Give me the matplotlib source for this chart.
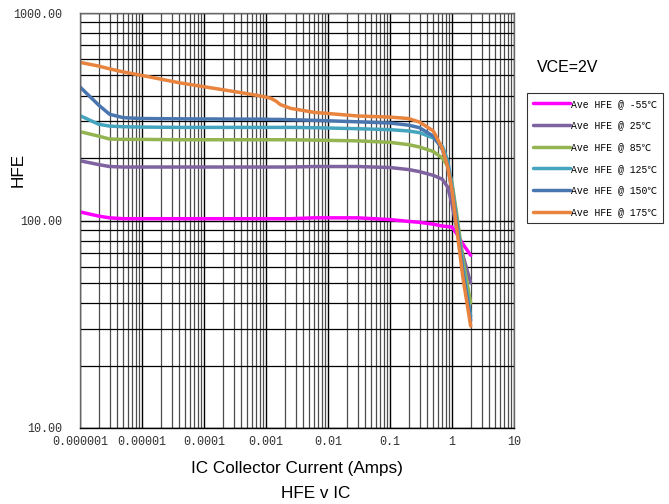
import matplotlib
matplotlib.use("Agg")
import matplotlib.pyplot as plt
from matplotlib.ticker import LogLocator, FixedLocator, NullFormatter

ic = [1e-6, 2e-6, 3e-6, 5e-6, 1e-5, 4e-5, 4e-4, 9e-4, 1.2e-3, 1.45e-3, 1.7e-3, 2.5e-3, 6e-3, 0.03,
      0.1, 0.2, 0.3, 0.5, 0.7, 0.85, 1.0, 1.2, 1.5, 2.0]

hfe_m55 = [110, 105, 103, 102, 102, 102, 102, 102, 102, 102, 102, 102, 103, 103, 101, 99, 98, 96, 94, 93.5, 93, 86, 77, 68]
hfe_25  = [194, 186, 182, 181, 181, 181, 181, 181, 181, 181, 181, 181, 182, 182, 180, 176, 172, 165, 158, 145, 120, 90, 68, 50]
hfe_85  = [268, 255, 247, 246, 246, 245, 245, 245, 245, 245, 245, 245, 244, 242, 238, 232, 226, 215, 200, 183, 152, 106, 65, 40]
hfe_125 = [320, 291, 285, 283, 282, 281, 281, 281, 281, 281, 281, 281, 280, 277, 274, 270, 265, 250, 228, 195, 148, 100, 60, 34.5]
hfe_150 = [440, 360, 325, 313, 310, 309, 308, 308, 307, 307, 307, 306, 304, 299, 295, 288, 280, 255, 220, 185, 140, 95, 56, 33]
hfe_175 = [578, 555, 538, 520, 500, 461, 413, 396, 388, 376, 362, 347, 332, 319, 315, 310, 298, 270, 222, 182, 140, 90, 53, 31]

labels = ["Ave HFE @ -55\u2103", "Ave HFE @ 25\u2103", "Ave HFE @ 85\u2103",
          "Ave HFE @ 125\u2103", "Ave HFE @ 150\u2103", "Ave HFE @ 175\u2103"]
colors = ["#FF00FF", "#7F62A0", "#93B450", "#45A5BF", "#4A76B0", "#E8843E"]
series = [hfe_m55, hfe_25, hfe_85, hfe_125, hfe_150, hfe_175]

xticks = [1e-6, 1e-5, 1e-4, 1e-3, 1e-2, 1e-1, 1, 10]
xticklabels = ["0.000001", "0.00001", "0.0001", "0.001", "0.01", "0.1", "1", "10"]
yticks = [10, 100, 1000]
yticklabels = ["10.00", "100.00", "1000.00"]

mono = ["Liberation Mono", "Noto Sans CJK SC", "DejaVu Sans"]
sans = ["Liberation Sans", "DejaVu Sans"]

fig = plt.figure(figsize=(6.69, 5.04), dpi=100)
ax = fig.add_axes([0.1196, 0.1508, 0.6487, 0.8234])
ax.set_xscale("log")
ax.set_yscale("log")
ax.set_xlim(1e-6, 10)
ax.set_ylim(10, 1000)

ax.xaxis.set_major_locator(FixedLocator(xticks))
ax.xaxis.set_minor_locator(LogLocator(base=10, subs=range(2, 10), numticks=20))
ax.yaxis.set_major_locator(FixedLocator(yticks))
ax.yaxis.set_minor_locator(LogLocator(base=10, subs=range(2, 10), numticks=20))
ax.xaxis.set_minor_formatter(NullFormatter())
ax.yaxis.set_minor_formatter(NullFormatter())
ax.set_xticklabels(xticklabels, fontsize=8.5, family=mono, color="#333333")
ax.set_yticklabels(yticklabels, fontsize=8.5, family=mono, color="#333333")
ax.tick_params(which="both", length=0)
ax.tick_params(axis="y", pad=13)
ax.tick_params(axis="x", pad=6)

ax.grid(True, which="major", axis="both", color="black", lw=1.0)
ax.grid(True, which="minor", axis="x", color="0.3", lw=0.9)
ax.grid(True, which="minor", axis="y", color="black", lw=0.9)
for s in ax.spines.values():
    s.set_color("0.4")
    s.set_linewidth(1.0)
ax.spines["bottom"].set_color("black")

handles = []
for ys, c, lab in zip(series, colors, labels):
    h, = ax.plot(ic, ys, color=c, lw=2.5, label=lab, solid_capstyle="round", solid_joinstyle="round")
    handles.append(h)

ax.set_xlabel("IC Collector Current (Amps)", fontsize=12.3, family=sans, labelpad=9)
fig.text(18 / 669, 1 - 170 / 504, "HFE", fontsize=12.3, family=sans, rotation=90,
         ha="center", va="center")
fig.text(0.472, 1 - 493 / 504, "HFE v IC", fontsize=12.3, family=sans, ha="center", va="center")
fig.text(537 / 669, 1 - 68 / 504, "VCE=2V", fontsize=11.5, family=sans, ha="left", va="center")

leg = fig.legend(handles=handles, labels=labels, loc="upper left",
                 bbox_to_anchor=(527 / 669, 1 - 93 / 504), prop={"family": mono, "size": 7},
                 frameon=True, fancybox=False, edgecolor="black", handlelength=3.8,
                 handletextpad=0.1, labelspacing=1.2, borderpad=0.6, borderaxespad=0)
leg.get_frame().set_linewidth(0.8)

fig.savefig("out.png", dpi=100)
